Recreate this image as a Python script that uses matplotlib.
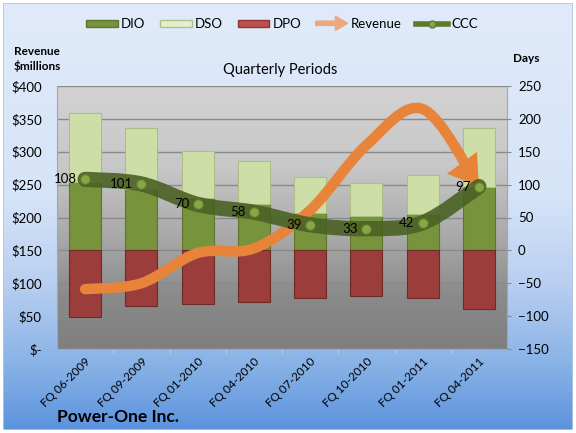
import numpy as np
import matplotlib
matplotlib.use('Agg')
import matplotlib.pyplot as plt
import matplotlib.patches as mpatches
from matplotlib.path import Path
from matplotlib.lines import Line2D
from matplotlib.legend_handler import HandlerPatch

plt.rcParams['font.family'] = ['Lato', 'DejaVu Sans']

# data
periods = ['FQ 06-2009', 'FQ 09-2009', 'FQ 01-2010', 'FQ 04-2010',
           'FQ 07-2010', 'FQ 10-2010', 'FQ 01-2011', 'FQ 04-2011']
dio = [104, 93, 80, 70, 57, 53, 56, 96]
dso = [105, 93, 71, 66, 55, 49, 58, 90]
dpo = [101, 85, 81, 78, 73, 69, 72, 89]
ccc = [108, 101, 70, 58, 39, 33, 42, 97]
revenue = [91, 100, 146, 153, 211, 310, 365, 248]

W, H = 576, 433


def fx(px):
    return px / W


def fy(py):
    return 1 - py / H


def smooth_path(xs, ys):
    # excel-style smoothed line as cubic bezier segments through the points
    n = len(xs)
    verts = [(xs[0], ys[0])]
    codes = [Path.MOVETO]
    for i in range(n - 1):
        a = max(i - 1, 0)
        b = min(i + 2, n - 1)
        c1 = (xs[i] + (xs[i + 1] - xs[a]) / 6, ys[i] + (ys[i + 1] - ys[a]) / 6)
        c2 = (xs[i + 1] - (xs[b] - xs[i]) / 6, ys[i + 1] - (ys[b] - ys[i]) / 6)
        verts += [c1, c2, (xs[i + 1], ys[i + 1])]
        codes += [Path.CURVE4] * 3
    return Path(verts, codes)


def gradient(stops, n=256):
    t = np.linspace(0, 1, n)
    pos = [s[0] for s in stops]
    cols = np.array([s[1] for s in stops]) / 255.0
    img = np.stack([np.interp(t, pos, cols[:, k]) for k in range(3)], axis=1)
    return img[:, None, :]


def group_alpha(a):
    def f(img, dpi):
        img = img.copy()
        img[:, :, 3] *= a
        return img, 0, 0
    return f


fig = plt.figure(figsize=(5.76, 4.33), dpi=100, facecolor='white')

# chart area background
bg = fig.add_axes([fx(3), 3 / H, fx(570), 427 / H])
bg.imshow(gradient([(0, (224, 234, 250)), (0.45, (214, 228, 248)), (0.65, (186, 208, 241)),
                    (0.85, (136, 178, 230)), (1, (92, 147, 221))]),
          aspect='auto', extent=[0, 1, 0, 1], transform=bg.transAxes)
bg.set_axis_off()
bg.add_patch(mpatches.Rectangle((0, 0), 1, 1, transform=bg.transAxes, fill=False,
                                edgecolor='#b4c6de', lw=1.2))

ax = fig.add_axes([fx(57), fy(349), fx(450), 263 / H])
ax.patch.set_visible(False)
ax.imshow(gradient([(0, (210, 210, 210)), (0.3, (200, 200, 200)), (0.6, (166, 166, 166)),
                    (0.8, (138, 138, 138)), (1, (127, 127, 127))]),
          aspect='auto', extent=[0, 1, 0, 1], transform=ax.transAxes, zorder=0)
x = np.arange(len(periods))
ax.set_xlim(-0.5, len(periods) - 0.5)
ax.set_ylim(0, 400)
ax.set_yticks(np.arange(0, 401, 50))
ax.set_yticklabels(['$-' if v == 0 else '$%d' % v for v in range(0, 401, 50)])
ax.set_axisbelow(True)
ax.yaxis.grid(True, color='#8a8a8a', lw=1)
ax.tick_params(axis='y', length=0, pad=11, labelsize=9.5)
ax.set_xticks(x)
ax.set_xticklabels(periods, rotation=45, ha='right', rotation_mode='anchor', fontsize=8.5)
ax.tick_params(axis='x', length=0, pad=5)
ax.set_xticks(x[:-1] + 0.5, minor=True)
ax.tick_params(axis='x', which='minor', length=3, color='#c8d4e4')
for s in ax.spines.values():
    s.set_color('#a6a6a6')
ax.spines['top'].set_visible(False)

ax2 = ax.twinx()
ax2.set_ylim(-150, 250)
ax2.set_yticks(np.arange(-150, 251, 50))
ax2.tick_params(axis='y', length=3, color='#8a8a8a', pad=5, labelsize=9.5)
for s in ax2.spines.values():
    s.set_visible(False)

bw = 0.57
ax2.bar(x, dio, bw, color='#77933c', edgecolor='#5e752f', lw=0.8, zorder=2)
ax2.bar(x, dso, bw, bottom=dio, color='#cddfa6', edgecolor='#aebf86', lw=0.8, zorder=2)
ax2.bar(x, [-v for v in dpo], bw, color='#9b3d3b', edgecolor='#6f2a28', lw=0.8, zorder=2)

# revenue: smoothed orange arrow on the $ axis
rev = mpatches.FancyArrowPatch(path=smooth_path(x, revenue), transform=ax.transData,
                               arrowstyle='-|>,head_length=10,head_width=6.5',
                               mutation_scale=1, color='#e8843a', lw=7.5,
                               capstyle='round', joinstyle='miter', zorder=3)
rev.set_agg_filter(group_alpha(0.75))
ax2.add_patch(rev)

# cash conversion cycle line
cline = mpatches.PathPatch(smooth_path(x, ccc), fill=False, edgecolor='#4b6125', lw=11,
                           alpha=0.9, capstyle='round', joinstyle='round', zorder=4)
ax2.add_patch(cline)
ax2.plot(x, ccc, 'o', ms=7, mfc='#86a743', mec='#5d7a2b', mew=0.8, zorder=5)
for xi, v in zip(x, ccc):
    ax2.annotate(str(v), (xi, v), xytext=(-6, 0), textcoords='offset points',
                 ha='right', va='center', fontsize=9.5, zorder=6)

# labels
fig.text(fx(37), fy(59), 'Revenue\n$millions', ha='center', va='center', fontsize=8.5,
         fontweight='bold', linespacing=1.35)
fig.text(fx(526), fy(58), 'Days', ha='center', va='center', fontsize=8.5, fontweight='bold')
fig.text(fx(280), fy(70), 'Quarterly Periods', ha='center', va='center', fontsize=10.5)
fig.text(fx(57), fy(417), 'Power-One Inc.', ha='left', va='center', fontsize=12.5,
         fontweight='bold')


def make_arrow(legend, orig_handle, xdescent, ydescent, width, height, fontsize):
    return mpatches.FancyArrow(-xdescent, height / 2 - ydescent, width, 0,
                               width=height * 0.6, head_width=height * 2.0,
                               head_length=width * 0.38, length_includes_head=True)


rev_handle = mpatches.Patch(color='#eca77a', label='Revenue')
handles = [mpatches.Patch(facecolor='#77933c', edgecolor='#5e752f', label='DIO'),
           mpatches.Patch(facecolor='#e4efd0', edgecolor='#aebf86', label='DSO'),
           mpatches.Patch(facecolor='#c0504d', edgecolor='#8c3836', label='DPO'),
           rev_handle,
           Line2D([], [], color='#5d7a2b', lw=4, marker='o', ms=5, mfc='#86a743',
                  mec='#5d7a2b', label='CCC')]
fig.legend(handles=handles, loc='center', bbox_to_anchor=(fx(282), fy(24)), ncol=5,
           frameon=False, fontsize=9.5, handlelength=2.4, handleheight=0.45,
           handletextpad=0.25, columnspacing=1.1,
           handler_map={rev_handle: HandlerPatch(patch_func=make_arrow)})

fig.savefig('out.png', dpi=100)
